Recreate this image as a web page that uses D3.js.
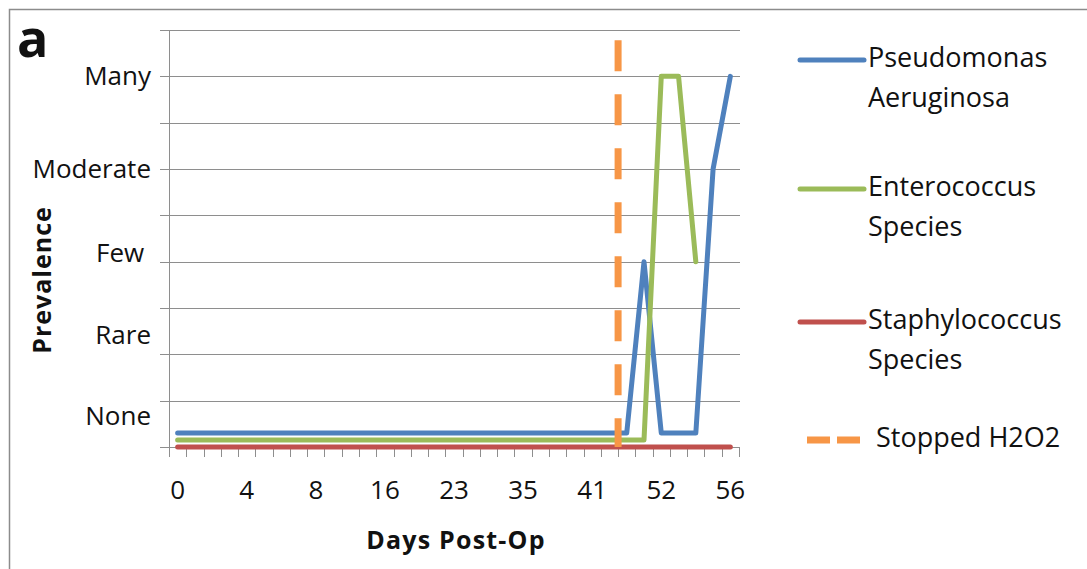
<!DOCTYPE html>
<html lang="en">
<meta charset="UTF-8">
<head>
    <title>Prevalence</title>
    <script src="https://d3js.org/d3.v7.min.js"></script>
    <style>
        body { margin: 0; background: #fff; }
        text { font-family: "Open Sans", Lato, sans-serif; fill: #111; }
    </style>
</head>
<body>
    <div id="plot"></div>
    <script>
        // category labels (only every 4th category carries a label)
        var xLabels = ["0", "4", "8", "16", "23", "35", "41", "52", "56"];
        var nCats = 33;

        // y level names and where they sit (data units)
        var levelNames = ["None", "Rare", "Few\u00a0", "Moderate", "Many"];
        var levelPos = [0.67, 2.42, 4.2, 6, 8];

        // series values per category index (null = no point)
        var pseudomonas = [0.3, 0.3, 0.3, 0.3, 0.3, 0.3, 0.3, 0.3, 0.3, 0.3, 0.3, 0.3, 0.3, 0.3, 0.3, 0.3, 0.3,
            0.3, 0.3, 0.3, 0.3, 0.3, 0.3, 0.3, 0.3, 0.3, 0.3, 4, 0.3, 0.3, 0.3, 6, 8];
        var enterococcus = [0.15, 0.15, 0.15, 0.15, 0.15, 0.15, 0.15, 0.15, 0.15, 0.15, 0.15, 0.15, 0.15, 0.15, 0.15, 0.15, 0.15,
            0.15, 0.15, 0.15, 0.15, 0.15, 0.15, 0.15, 0.15, 0.15, 0.15, 0.15, 8, 8, 4, null, null];
        var staphylococcus = [0, 0, 0, 0, 0, 0, 0, 0, 0, 0, 0, 0, 0, 0, 0, 0, 0,
            0, 0, 0, 0, 0, 0, 0, 0, 0, 0, 0, 0, 0, 0, 0, 0];

        // H2O2 stop marker: between categories 25 and 26
        var stoppedAt = 25.5;
        var stoppedTop = 8.78;

        var seriesNames = [["Pseudomonas", "Aeruginosa"], ["Enterococcus", "Species"], ["Staphylococcus", "Species"]];
        var seriesColors = ["#4f81bd", "#9bbb59", "#c0504d"];
        var seriesData = [pseudomonas, enterococcus, staphylococcus];

        var width = 1087, height = 569;
        var svg = d3.select('#plot').append('svg')
            .attr('width', width)
            .attr('height', height);

        svg.append("rect").attr("width", width).attr("height", height).attr("fill", "#fff");
        // outer frame
        svg.append("rect")
            .attr("x", 9.5).attr("y", 9.5)
            .attr("width", 1100).attr("height", 600)
            .attr("fill", "none").attr("stroke", "#8c8c8c").attr("stroke-width", 1.5);

        var plotL = 169, plotR = 739, plotT = 30, plotB = 447;
        var x = d3.scaleLinear().domain([-0.5, nCats - 0.5]).range([plotL, plotR]);
        var y = d3.scaleLinear().domain([0, 9]).range([plotB, plotT]);

        // gridlines + y ticks
        var g = svg.append("g");
        g.selectAll("line.grid")
            .data(d3.range(0, 10))
            .join("line")
            .attr("class", "grid")
            .attr("x1", plotL - 9).attr("x2", plotR + 1)
            .attr("y1", d => Math.round(y(d)) + 0.5).attr("y2", d => Math.round(y(d)) + 0.5)
            .attr("stroke", "#8e8e8e").attr("stroke-width", 1);

        // y axis line
        g.append("line")
            .attr("x1", plotL + 0.5).attr("x2", plotL + 0.5)
            .attr("y1", plotT).attr("y2", plotB + 10)
            .attr("stroke", "#8e8e8e");

        // x tick marks at category boundaries
        g.selectAll("line.xtick")
            .data(d3.range(0, nCats + 1))
            .join("line")
            .attr("class", "xtick")
            .attr("x1", d => Math.round(x(d - 0.5)) + 0.5).attr("x2", d => Math.round(x(d - 0.5)) + 0.5)
            .attr("y1", plotB).attr("y2", plotB + 10)
            .attr("stroke", "#8e8e8e");

        // x labels
        g.selectAll("text.xlab")
            .data(xLabels)
            .join("text")
            .attr("class", "xlab")
            .attr("x", (d, i) => x(i * 4))
            .attr("y", 499)
            .attr("text-anchor", "middle")
            .style("font-size", "26px")
            .text(d => d);

        // y labels
        g.selectAll("text.ylab")
            .data(levelNames)
            .join("text")
            .attr("class", "ylab")
            .attr("x", 151)
            .attr("y", (d, i) => y(levelPos[i]))
            .attr("dy", "0.35em")
            .attr("text-anchor", "end")
            .style("font-size", "26px")
            .text(d => d);

        // series lines
        var line = d3.line()
            .defined(d => d != null)
            .x((d, i) => x(i))
            .y(d => y(d));

        svg.selectAll("path.series")
            .data(seriesData)
            .join("path")
            .attr("class", "series")
            .attr("d", d => line(d))
            .attr("fill", "none")
            .attr("stroke", (d, i) => seriesColors[i])
            .attr("stroke-width", 5)
            .attr("stroke-linejoin", "round")
            .attr("stroke-linecap", "round");

        // stopped H2O2 marker
        svg.append("line")
            .attr("x1", x(stoppedAt)).attr("x2", x(stoppedAt))
            .attr("y1", y(stoppedTop)).attr("y2", y(0))
            .attr("stroke", "#f79646")
            .attr("stroke-width", 7)
            .attr("stroke-dasharray", "31,23");

        // legend
        var leg = svg.append("g");
        var legY = [60, 189, 322];
        seriesNames.forEach(function (names, i) {
            leg.append("line")
                .attr("x1", 800).attr("x2", 864)
                .attr("y1", legY[i]).attr("y2", legY[i])
                .attr("stroke", seriesColors[i])
                .attr("stroke-width", 5)
                .attr("stroke-linecap", "round");
            names.forEach(function (n, j) {
                leg.append("text")
                    .attr("x", 868)
                    .attr("y", legY[i] - 2 + j * 40)
                    .attr("dy", "0.35em")
                    .style("font-size", "27px")
                    .text(n);
            });
        });
        leg.append("line")
            .attr("x1", 807).attr("x2", 861)
            .attr("y1", 440).attr("y2", 440)
            .attr("stroke", "#f79646")
            .attr("stroke-width", 7)
            .attr("stroke-dasharray", "23,7");
        leg.append("text")
            .attr("x", 876).attr("y", 438)
            .attr("dy", "0.35em")
            .style("font-size", "27px")
            .text("Stopped H2O2");

        // axis titles
        svg.append("text")
            .attr("transform", "translate(51,280) rotate(-90)")
            .attr("text-anchor", "middle")
            .style("font-size", "25px")
            .style("font-weight", "bold")
            .style("letter-spacing", "1px")
            .text("Prevalence");
        svg.append("text")
            .attr("x", 456).attr("y", 549)
            .attr("text-anchor", "middle")
            .style("font-size", "25px")
            .style("font-weight", "bold")
            .style("letter-spacing", "1.2px")
            .text("Days Post-Op");

        // panel letter
        svg.append("text")
            .attr("x", 17).attr("y", 57)
            .style("font-size", "52px")
            .style("font-weight", "bold")
            .text("a");
    </script>
</body>
</html>
